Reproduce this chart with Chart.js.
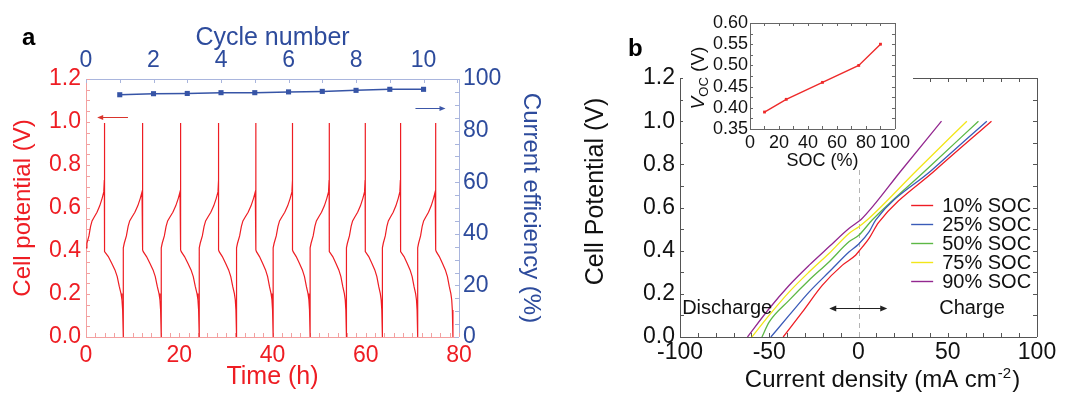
<!DOCTYPE html>
<html>
<head>
<meta charset="utf-8">
<script src="https://cdn.jsdelivr.net/npm/chart.js@4.4.1/dist/chart.umd.min.js"></script>
<style>
body{margin:0;background:#fff;width:1066px;height:393px;overflow:hidden;position:relative;font-family:"Liberation Sans",Arial,sans-serif}
canvas{position:absolute;top:0}
#chartA{left:0}
#chartB{left:560px}
#chartInset{left:683px}
.panel{position:absolute;font-weight:bold;font-size:24px;line-height:24px;color:#000}
</style>
</head>
<body>
<canvas id="chartA" width="560" height="393"></canvas>
<canvas id="chartB" width="506" height="393"></canvas>
<canvas id="chartInset" width="230" height="172"></canvas>
<div class="panel" style="left:22px;top:25px">a</div>
<div class="panel" style="left:628px;top:36px">b</div>
<script>
// ---- panel a : cycling data ----
// times (h) where each charge hits the 1.0 V cut-off, and where each discharge hits 0 V
var spikeTimes  = [3.93, 12.14, 20.29, 28.43, 36.43, 44.29, 52.14, 59.86, 67.43, 75.0];
var cutoffTimes = [8.0, 16.14, 24.29, 32.29, 40.14, 48.07, 55.86, 63.57, 71.14, 78.7];
var chargeFrac    = [0, 0.05, 0.16, 0.25, 0.33, 0.45, 0.6, 0.75, 0.88, 0.97, 1.0, 1.0];
var chargeVolt    = [0.415, 0.436, 0.47, 0.515, 0.54, 0.558, 0.58, 0.61, 0.645, 0.675, 0.73, 0.995];
var dischargeFrac = [0, 0.035, 0.21, 0.39, 0.56, 0.68, 0.79, 0.88, 0.93, 0.965, 1.0];
var dischargeVolt = [0.405, 0.397, 0.374, 0.343, 0.312, 0.281, 0.234, 0.202, 0.172, 0.126, 0];
var cycleNumber = [1, 2, 3, 4, 5, 6, 7, 8, 9, 10];
var currentEfficiency = [93.9, 94.3, 94.4, 94.7, 94.7, 95.0, 95.2, 95.6, 96.0, 96.0];
var timeTicks = [0, 20, 40, 60, 80];
var potentialTicks = [0, 0.2, 0.4, 0.6, 0.8, 1.0, 1.2];
var cycleTicks = [0, 2, 4, 6, 8, 10];
var efficiencyTicks = [0, 20, 40, 60, 80, 100];

// ---- panel b : polarization curves ----
var socLabels = ['10% SOC', '25% SOC', '50% SOC', '75% SOC', '90% SOC'];
var socColors = ['#ee1c24', '#3a5bb8', '#5cb845', '#f2e619', '#93278f'];
var current10 = [-42.2, -31.4, -20.2, -9, -1.5, 0, 6, 11.2, 43.3, 74.5];
var volt10    = [0, 0.116, 0.24, 0.333, 0.38, 0.395, 0.458, 0.53, 0.775, 1.0];
var current25 = [-49.1, -38.8, -27.6, -16.4, -5.2, 0, 6, 9.7, 41.3, 71.9];
var volt25    = [0, 0.101, 0.209, 0.302, 0.395, 0.43, 0.488, 0.543, 0.775, 1.0];
var current50 = [-54.1, -50, -38.8, -27.6, -16.4, -5.2, 0, 7.8, 38, 67.2];
var volt50    = [0, 0.07, 0.171, 0.264, 0.349, 0.442, 0.47, 0.543, 0.775, 1.0];
var current75 = [-59.7, -50, -38.8, -27.6, -16.4, -5.2, 0, 5, 33, 60.7];
var volt75    = [0, 0.101, 0.209, 0.302, 0.388, 0.481, 0.51, 0.543, 0.775, 1.0];
var current90 = [-62.2, -50, -38.8, -27.6, -16.4, -5.2, 0, 1.3, 24.3, 46.5];
var volt90    = [0, 0.132, 0.24, 0.333, 0.419, 0.504, 0.535, 0.543, 0.775, 1.0];
var currentTicks = [-100, -50, 0, 50, 100];
var cellTicks = [0, 0.2, 0.4, 0.6, 0.8, 1.0, 1.2];

// ---- inset : open circuit voltage ----
var socPercent = [10, 25, 50, 75, 90];
var openCircuitV = [0.39, 0.42, 0.46, 0.50, 0.55];
var socTicks = [0, 20, 40, 60, 80, 100];
var vocTicks = [0.35, 0.40, 0.45, 0.50, 0.55, 0.60];

Chart.defaults.font.family = "'Liberation Sans', Arial, sans-serif";
Chart.defaults.animation = false;

var red = '#ee1d23', lightRed = '#f3a0a0', blue = '#2d4b9c', lightBlue = '#a9b5dd';

function range(a, b, s) {
    var out = [];
    for (var v = a; v <= b + 1e-9; v += s) out.push(+v.toFixed(4));
    return out;
}
function setTicks(list) {
    return function(scale) { scale.ticks = list.map(function(v){ return {value: v}; }); };
}
function fixWidth(w) { return function(scale){ scale.width = w; }; }
function fixHeight(h) { return function(scale){ scale.height = h; }; }

function tickMarks(ctx, scale, values, side, len, color) {
    var a = scale.chart.chartArea;
    ctx.save();
    ctx.strokeStyle = color;
    ctx.lineWidth = 1;
    ctx.beginPath();
    values.forEach(function(v){
        var p = Math.round(scale.getPixelForValue(v)) + 0.5;
        if (side == 'left')   { ctx.moveTo(a.left, p);  ctx.lineTo(a.left + len, p); }
        if (side == 'right')  { ctx.moveTo(a.right, p); ctx.lineTo(a.right - len, p); }
        if (side == 'bottom') { ctx.moveTo(p, a.bottom); ctx.lineTo(p, a.bottom - len); }
        if (side == 'top')    { ctx.moveTo(p, a.top);   ctx.lineTo(p, a.top + len); }
    });
    ctx.stroke();
    ctx.restore();
}
function line(ctx, x1, y1, x2, y2, color) {
    ctx.save();
    ctx.strokeStyle = color;
    ctx.lineWidth = 1;
    ctx.beginPath();
    ctx.moveTo(x1, y1);
    ctx.lineTo(x2, y2);
    ctx.stroke();
    ctx.restore();
}
function head(ctx, x, y, dir, color, len, half) {
    ctx.save();
    ctx.fillStyle = color;
    ctx.beginPath();
    ctx.moveTo(x, y);
    ctx.lineTo(x - dir * len, y - half);
    ctx.lineTo(x - dir * len, y + half);
    ctx.closePath();
    ctx.fill();
    ctx.restore();
}

// build the potential trace from the cycle times and the step profiles
var potentialPoints = [];
for (var c = 0; c < spikeTimes.length; c++) {
    var t0 = c == 0 ? 0 : cutoffTimes[c - 1];
    var t1 = spikeTimes[c], t2 = cutoffTimes[c];
    if (c > 0) potentialPoints.push({x: t0, y: 0});
    for (var i = 0; i < chargeFrac.length; i++) potentialPoints.push({x: t0 + chargeFrac[i] * (t1 - t0), y: chargeVolt[i]});
    for (var j = 0; j < dischargeFrac.length; j++) potentialPoints.push({x: t1 + dischargeFrac[j] * (t2 - t1), y: dischargeVolt[j]});
}
var efficiencyPoints = cycleNumber.map(function(n, k){ return {x: n, y: currentEfficiency[k]}; });

var decorA = {
    id: 'decorA',
    beforeDatasetsDraw: function(chart) {
        var ctx = chart.ctx, a = chart.chartArea, s = chart.scales;
        line(ctx, a.left + 0.5, a.top, a.left + 0.5, a.bottom, lightRed);
        line(ctx, a.left, a.bottom + 0.5, a.right, a.bottom + 0.5, lightRed);
        line(ctx, a.left, a.top + 0.5, a.right, a.top + 0.5, lightBlue);
        line(ctx, a.right + 0.5, a.top, a.right + 0.5, a.bottom, lightBlue);
        tickMarks(ctx, s.y, range(0, 1.2, 0.05), 'left', 4, lightRed);
        tickMarks(ctx, s.x, range(0, 80, 2), 'bottom', 4, lightRed);
        tickMarks(ctx, s.x2, range(0, 11, 1), 'top', 4, lightBlue);
        tickMarks(ctx, s.y2, range(0, 100, 5), 'right', 4, lightBlue);
    },
    afterDatasetsDraw: function(chart) {
        var ctx = chart.ctx, s = chart.scales;
        // arrow to the potential axis
        var ya = Math.round(s.y.getPixelForValue(1.023)) + 0.5;
        var xa1 = s.x.getPixelForValue(9.0), xa2 = s.x.getPixelForValue(2.4);
        line(ctx, xa1, ya, xa2 + 5, ya, '#d9342b');
        head(ctx, xa2, ya, -1, '#d9342b', 6, 2.5);
        // arrow to the efficiency axis
        var yb = Math.round(s.y2.getPixelForValue(88.8)) + 0.5;
        var xb1 = s.x2.getPixelForValue(9.76), xb2 = s.x2.getPixelForValue(10.65);
        line(ctx, xb1, yb, xb2 - 5, yb, '#3c57a8');
        head(ctx, xb2, yb, 1, '#3c57a8', 6, 2.5);
    }
};

new Chart(document.getElementById('chartA').getContext('2d'), {
    type: 'scatter',
    data: {
        datasets: [{
            data: potentialPoints,
            xAxisID: 'x', yAxisID: 'y',
            showLine: true, borderColor: red, borderWidth: 1.2, pointRadius: 0, tension: 0
        }, {
            data: efficiencyPoints,
            xAxisID: 'x2', yAxisID: 'y2',
            showLine: true, borderColor: '#3654a6', borderWidth: 1.5,
            pointStyle: 'rect', pointRadius: 3.6, backgroundColor: '#3654a6', pointBorderWidth: 0
        }]
    },
    options: {
        responsive: false,
        layout: {padding: 0},
        plugins: {legend: {display: false}, tooltip: {enabled: false}},
        scales: {
            x: {
                type: 'linear', position: 'bottom', min: 0, max: 80,
                afterBuildTicks: setTicks(timeTicks), afterFit: fixHeight(56),
                grid: {display: false, drawTicks: false}, border: {display: false},
                ticks: {color: red, font: {size: 23}, padding: 5, autoSkip: false, maxRotation: 0},
                title: {display: true, text: 'Time (h)', color: red, font: {size: 25}, padding: {top: 0, bottom: 1}}
            },
            y: {
                type: 'linear', position: 'left', min: 0, max: 1.2,
                afterBuildTicks: setTicks(potentialTicks), afterFit: fixWidth(86),
                grid: {display: false, drawTicks: false}, border: {display: false},
                ticks: {color: red, font: {size: 23}, padding: 5, autoSkip: false, callback: function(v){ return v.toFixed(1); }},
                title: {display: true, text: 'Cell potential (V)', color: red, font: {size: 24}, padding: {top: 9, bottom: 0}}
            },
            x2: {
                type: 'linear', position: 'top', min: 0, max: 11.05,
                afterBuildTicks: setTicks(cycleTicks), afterFit: fixHeight(79),
                grid: {display: false, drawTicks: false}, border: {display: false},
                ticks: {color: blue, font: {size: 23}, padding: 5, autoSkip: false, maxRotation: 0},
                title: {display: true, text: 'Cycle number', color: blue, font: {size: 25}, padding: {top: 23, bottom: 0}}
            },
            y2: {
                type: 'linear', position: 'right', min: 0, max: 100,
                afterBuildTicks: setTicks(efficiencyTicks), afterFit: fixWidth(101),
                grid: {display: false, drawTicks: false}, border: {display: false},
                ticks: {color: blue, font: {size: 23}, padding: 4, autoSkip: false},
                title: {display: true, text: 'Current efficiency (%)', color: blue, font: {size: 24}, padding: {top: 15, bottom: 0}}
            }
        }
    },
    plugins: [decorA]
});

// ---- panel b ----
var currents = [current10, current25, current50, current75, current90];
var volts = [volt10, volt25, volt50, volt75, volt90];
var polarizationSets = socLabels.map(function(lab, k){
    return {
        label: lab,
        data: currents[k].map(function(x, i){ return {x: x, y: volts[k][i]}; }),
        showLine: true, borderColor: socColors[k], borderWidth: 1.3,
        pointRadius: 0, cubicInterpolationMode: 'monotone'
    };
});

var frameColor = '#555';
var decorB = {
    id: 'decorB',
    beforeDatasetsDraw: function(chart) {
        var ctx = chart.ctx, a = chart.chartArea, s = chart.scales;
        line(ctx, a.left + 0.5, a.top, a.left + 0.5, a.bottom, frameColor);
        line(ctx, a.left, a.bottom + 0.5, a.right, a.bottom + 0.5, frameColor);
        line(ctx, a.left, a.top + 0.5, a.right, a.top + 0.5, frameColor);
        line(ctx, a.right + 0.5, a.top, a.right + 0.5, a.bottom, frameColor);
        tickMarks(ctx, s.y, range(0, 1.2, 0.1), 'left', 4, frameColor);
        tickMarks(ctx, s.y, range(0, 1.2, 0.1), 'right', 4, frameColor);
        tickMarks(ctx, s.x, range(-100, 100, 10), 'bottom', 4, frameColor);
        tickMarks(ctx, s.x, range(-100, 100, 10), 'top', 4, frameColor);
        // open circuit reference at zero current
        var x0 = Math.round(s.x.getPixelForValue(0)) + 0.5;
        ctx.save();
        ctx.setLineDash([5, 4]);
        line(ctx, x0, s.y.getPixelForValue(0), x0, s.y.getPixelForValue(0.775), '#b4b4b4');
        ctx.restore();
    },
    afterDraw: function(chart) {
        var ctx = chart.ctx, a = chart.chartArea, s = chart.scales;
        // double arrow and annotations
        var ya = Math.round(s.y.getPixelForValue(0.133)) + 0.5;
        var xl = s.x.getPixelForValue(-16.4), xr = s.x.getPixelForValue(16.1);
        line(ctx, xl + 5, ya, xr - 5, ya, '#222');
        head(ctx, xl, ya, -1, '#222', 7, 3);
        head(ctx, xr, ya, 1, '#222', 7, 3);
        ctx.save();
        ctx.fillStyle = '#111';
        ctx.font = "20px 'Liberation Sans', Arial, sans-serif";
        ctx.textBaseline = 'middle';
        ctx.textAlign = 'left';
        ctx.fillText('Discharge', s.x.getPixelForValue(-98.8), ya);
        ctx.fillText('Charge', s.x.getPixelForValue(45.2), ya);
        // legend
        var lx = s.x.getPixelForValue(29.5), ly = s.y.getPixelForValue(0.613);
        socLabels.forEach(function(lab, k){
            var yy = Math.round(ly + k * 19.2) + 0.5;
            ctx.strokeStyle = socColors[k];
            ctx.lineWidth = 1.4;
            ctx.beginPath();
            ctx.moveTo(lx, yy);
            ctx.lineTo(lx + 22, yy);
            ctx.stroke();
            ctx.fillText(lab, lx + 31, yy + 1);
        });
        // axis titles
        ctx.textAlign = 'center';
        ctx.font = "25px 'Liberation Sans', Arial, sans-serif";
        ctx.save();
        ctx.translate(a.left - 84, (a.top + a.bottom) / 2 - 16);
        ctx.rotate(-Math.PI / 2);
        ctx.fillText('Cell Potential (V)', 0, 0);
        ctx.restore();
        var big = "24px 'Liberation Sans', Arial, sans-serif", small = "15px 'Liberation Sans', Arial, sans-serif";
        var t1 = 'Current density (mA cm', t2 = '-2', t3 = ')';
        ctx.font = big; var w1 = ctx.measureText(t1).width, w3 = ctx.measureText(t3).width;
        ctx.font = small; var w2 = ctx.measureText(t2).width;
        var x = (a.left + a.right) / 2 + 23 - (w1 + w2 + w3) / 2, base = a.bottom + 50;
        ctx.textAlign = 'left';
        ctx.textBaseline = 'alphabetic';
        ctx.font = big; ctx.fillText(t1, x, base);
        ctx.font = small; ctx.fillText(t2, x + w1 + 1, base - 9);
        ctx.font = big; ctx.fillText(t3, x + w1 + w2 + 2, base);
        ctx.restore();
    }
};

new Chart(document.getElementById('chartB').getContext('2d'), {
    type: 'scatter',
    data: {datasets: polarizationSets},
    options: {
        responsive: false,
        layout: {padding: {top: 78, right: 29, left: 0, bottom: 0}},
        plugins: {legend: {display: false}, tooltip: {enabled: false}},
        scales: {
            x: {
                type: 'linear', min: -100, max: 100,
                afterBuildTicks: setTicks(currentTicks), afterFit: fixHeight(56),
                grid: {display: false, drawTicks: false}, border: {display: false},
                ticks: {color: '#111', font: {size: 23}, padding: 2, autoSkip: false, maxRotation: 0}
            },
            y: {
                type: 'linear', min: 0, max: 1.2,
                afterBuildTicks: setTicks(cellTicks), afterFit: fixWidth(120),
                grid: {display: false, drawTicks: false}, border: {display: false},
                ticks: {color: '#111', font: {size: 23}, padding: 5, autoSkip: false, callback: function(v){ return v.toFixed(1); }}
            }
        }
    },
    plugins: [decorB]
});

// ---- inset ----
var decorInset = {
    id: 'decorInset',
    beforeDraw: function(chart) {
        // white backing for the inset box and its labels only, so panel b shows around it
        var ctx = chart.ctx, a = chart.chartArea;
        ctx.save();
        ctx.fillStyle = '#fff';
        ctx.fillRect(0, 0, chart.width, a.bottom + 22);
        ctx.fillRect(a.left + 20, a.bottom + 22, a.right - a.left - 50, chart.height - a.bottom - 24);
        ctx.restore();
    },
    beforeDatasetsDraw: function(chart) {
        var ctx = chart.ctx, a = chart.chartArea, s = chart.scales;
        var col = '#666';
        line(ctx, a.left + 0.5, a.top, a.left + 0.5, a.bottom, col);
        line(ctx, a.left, a.bottom + 0.5, a.right, a.bottom + 0.5, col);
        line(ctx, a.left, a.top + 0.5, a.right, a.top + 0.5, col);
        line(ctx, a.right + 0.5, a.top, a.right + 0.5, a.bottom, col);
        tickMarks(ctx, s.x, range(0, 100, 10), 'bottom', 3, col);
        tickMarks(ctx, s.x, range(0, 100, 10), 'top', 3, col);
        tickMarks(ctx, s.y, range(0.35, 0.6, 0.025), 'left', 3, col);
        tickMarks(ctx, s.y, range(0.35, 0.6, 0.025), 'right', 3, col);
    },
    afterDraw: function(chart) {
        var ctx = chart.ctx, a = chart.chartArea;
        var big = "19px 'Liberation Sans', Arial, sans-serif";
        var it = "italic 19px 'Liberation Sans', Arial, sans-serif";
        var sub = "13px 'Liberation Sans', Arial, sans-serif";
        ctx.save();
        ctx.fillStyle = '#111';
        ctx.textBaseline = 'middle';
        ctx.textAlign = 'left';
        ctx.font = it; var wV = ctx.measureText('V').width;
        ctx.font = sub; var wS = ctx.measureText('OC').width;
        ctx.font = big; var wU = ctx.measureText(' (V)').width;
        ctx.translate(a.left - 51, (a.top + a.bottom) / 2 + 2);
        ctx.rotate(-Math.PI / 2);
        var x = -(wV + wS + wU) / 2;
        ctx.font = it; ctx.fillText('V', x, 0);
        ctx.font = sub; ctx.fillText('OC', x + wV, 5);
        ctx.font = big; ctx.fillText(' (V)', x + wV + wS, 0);
        ctx.restore();
    }
};

new Chart(document.getElementById('chartInset').getContext('2d'), {
    type: 'scatter',
    data: {
        datasets: [{
            data: socPercent.map(function(s, k){ return {x: s, y: openCircuitV[k]}; }),
            showLine: true, borderColor: '#ee2a2a', borderWidth: 1.4,
            pointStyle: 'rect', pointRadius: 2, backgroundColor: '#ee2a2a', pointBorderWidth: 0
        }]
    },
    options: {
        responsive: false,
        layout: {padding: {top: 23, right: 9, left: 0, bottom: 0}},
        plugins: {legend: {display: false}, tooltip: {enabled: false}},
        scales: {
            x: {
                type: 'linear', min: 0, max: 100,
                afterBuildTicks: setTicks(socTicks), afterFit: fixHeight(43),
                grid: {display: false, drawTicks: false}, border: {display: false},
                ticks: {color: '#111', font: {size: 18}, padding: 3, autoSkip: false, maxRotation: 0},
                title: {display: true, text: 'SOC (%)', color: '#111', font: {size: 18}, padding: {top: 0, bottom: 0}}
            },
            y: {
                type: 'linear', min: 0.35, max: 0.6,
                afterBuildTicks: setTicks(vocTicks), afterFit: fixWidth(67),
                grid: {display: false, drawTicks: false}, border: {display: false},
                ticks: {color: '#111', font: {size: 18}, padding: 2, autoSkip: false, callback: function(v){ return v.toFixed(2); }}
            }
        }
    },
    plugins: [decorInset]
});
</script>
</body>
</html>
